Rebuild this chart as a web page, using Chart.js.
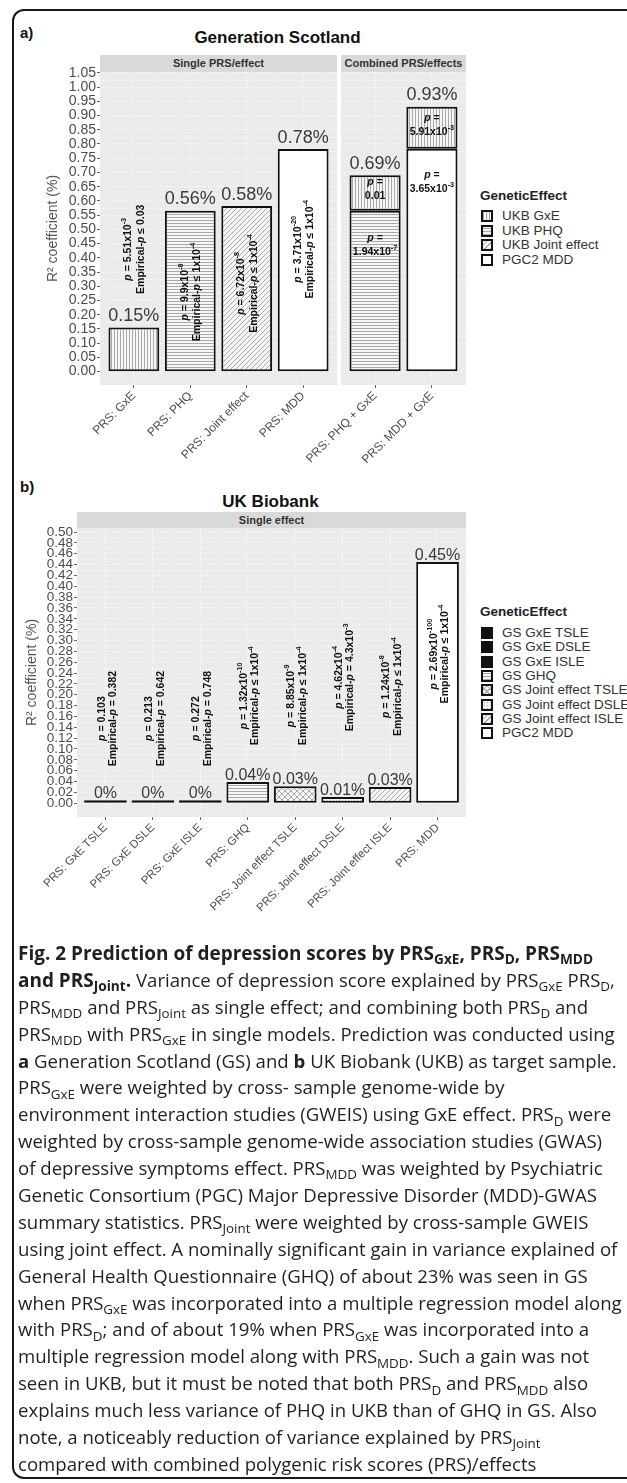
<!DOCTYPE html>
<html>
<head>
<meta charset="utf-8">
<title>Fig. 2 Prediction of depression scores</title>
<script src="https://cdn.jsdelivr.net/npm/chart.js@4.4.1/dist/chart.umd.min.js"></script>
<style>
  body { margin: 0; background: #fff; }
  #page { position: relative; width: 627px; height: 1483px; overflow: hidden; font-family: 'Liberation Sans', Arial, sans-serif; }
  #page > * { position: absolute; }
  .frame { left: 12px; top: 9px; width: 660px; height: 1470px; border: 2.5px solid #1a1a1a; border-radius: 12px; box-sizing: border-box; }
  .tag { left: 20px; font-weight: bold; font-size: 15px; color: #111; }
  .title { left: 0; font-weight: bold; color: #111; text-align: center; white-space: nowrap; }
  .strip { background: #d9d9d9; color: #333; font-weight: bold; font-size: 11px; text-align: center; }
  .legend { left: 480px; width: 147px; height: 160px; color: #333; font-size: 13.5px; }
  .legend div { position: absolute; white-space: nowrap; }
  .legend .head { left: 0; font-weight: bold; color: #222; }
  .legend .sw { left: 1px; width: 12px; height: 12px; border: 2px solid #111; box-sizing: border-box; }
  #cap { left: 18px; top: 940px; font-family: 'Open Sans', sans-serif; font-size: 18.6px; color: #231f20; white-space: nowrap; }
  #cap div { height: 26.9px; line-height: 26.9px; }
  #cap .ct { font-size: 1.02em; line-height: 1; }
  #cap sub { font-size: 0.72em; vertical-align: baseline; position: relative; top: 0.32em; line-height: 0; }
</style>
</head>
<body>
<div id="page">
  <div class="frame"></div>

  <div class="tag" style="top:24px">a)</div>
  <div class="title" style="top:28px;width:555px;font-size:17px">Generation Scotland</div>
  <canvas id="gsSingle" width="340" height="420" style="left:0;top:55px"></canvas>
  <canvas id="gsComb" width="230" height="420" style="left:250px;top:55px"></canvas>
  <div class="strip" style="left:100px;top:55px;width:237px;height:17px;line-height:17px">Single PRS/effect</div>
  <div class="strip" style="left:341px;top:55px;width:125px;height:17px;line-height:17px">Combined PRS/effects</div>
  <div class="legend" id="gsLegendBox" style="top:188px"></div>

  <div class="tag" style="top:478px">b)</div>
  <div class="title" style="top:492px;width:541px;font-size:17px">UK Biobank</div>
  <canvas id="ukb" width="480" height="445" style="left:0;top:500px"></canvas>
  <div class="strip" style="left:77px;top:512px;width:389px;height:16px;line-height:16px">Single effect</div>
  <div class="legend" id="ukbLegendBox" style="top:604px;height:140px"></div>

  <div id="cap">
    <div><b class="ct">Fig. 2 Prediction of depression scores by PRS<sub>GxE</sub>, PRS<sub>D</sub>, PRS<sub>MDD</sub></b></div>
    <div><b class="ct">and PRS<sub>Joint</sub>.</b> Variance of depression score explained by PRS<sub>GxE</sub> PRS<sub>D</sub>,</div>
    <div>PRS<sub>MDD</sub> and PRS<sub>Joint</sub> as single effect; and combining both PRS<sub>D</sub> and</div>
    <div>PRS<sub>MDD</sub> with PRS<sub>GxE</sub> in single models. Prediction was conducted using</div>
    <div><b>a</b> Generation Scotland (GS) and <b>b</b> UK Biobank (UKB) as target sample.</div>
    <div>PRS<sub>GxE</sub> were weighted by cross- sample genome-wide by</div>
    <div>environment interaction studies (GWEIS) using GxE effect. PRS<sub>D</sub> were</div>
    <div>weighted by cross-sample genome-wide association studies (GWAS)</div>
    <div>of depressive symptoms effect. PRS<sub>MDD</sub> was weighted by Psychiatric</div>
    <div>Genetic Consortium (PGC) Major Depressive Disorder (MDD)-GWAS</div>
    <div>summary statistics. PRS<sub>Joint</sub> were weighted by cross-sample GWEIS</div>
    <div>using joint effect. A nominally significant gain in variance explained of</div>
    <div>General Health Questionnaire (GHQ) of about 23% was seen in GS</div>
    <div>when PRS<sub>GxE</sub> was incorporated into a multiple regression model along</div>
    <div>with PRS<sub>D</sub>; and of about 19% when PRS<sub>GxE</sub> was incorporated into a</div>
    <div>multiple regression model along with PRS<sub>MDD</sub>. Such a gain was not</div>
    <div>seen in UKB, but it must be noted that both PRS<sub>D</sub> and PRS<sub>MDD</sub> also</div>
    <div>explains much less variance of PHQ in UKB than of GHQ in GS. Also</div>
    <div>note, a noticeably reduction of variance explained by PRS<sub>Joint</sub></div>
    <div>compared with combined polygenic risk scores (PRS)/effects</div>
  </div>
</div>

<script>
// Panel a - Generation Scotland, single PRS
const gsSingleCats = ['PRS: GxE', 'PRS: PHQ', 'PRS: Joint effect', 'PRS: MDD'];
const gsSingleR2 = [0.155, 0.565, 0.582, 0.782];
const gsSinglePct = ['0.15%', '0.56%', '0.58%', '0.78%'];
const gsSingleP = ['5.51x10^-3', '9.9x10^-8', '6.72x10^-8', '3.71x10^-20'];
const gsSingleEmp = ['≤ 0.03', '≤ 1x10^-4', '≤ 1x10^-4', '≤ 1x10^-4'];
const gsSingleTextY = [0.43, 0.28, 0.31, 0.43];
const gsSingleFill = ['v', 'h', 'd', 'w'];

// Panel a - combined PRS (base + GxE stacked)
const gsCombCats = ['PRS: PHQ + GxE', 'PRS: MDD + GxE'];
const gsCombBase = [0.565, 0.783];
const gsCombGxE = [0.125, 0.148];
const gsCombPct = ['0.69%', '0.93%'];
const gsCombBaseP = ['1.94x10^-7', '3.65x10^-3'];
const gsCombGxEP = ['0.01', '5.91x10^-3'];
const gsCombBaseTextY = [0.445, 0.667];
const gsCombGxETextY = [0.64, 0.867];
const gsCombFill = ['h', 'w'];

const gsTicks = [0, 0.05, 0.1, 0.15, 0.2, 0.25, 0.3, 0.35, 0.4, 0.45, 0.5, 0.55,
                 0.6, 0.65, 0.7, 0.75, 0.8, 0.85, 0.9, 0.95, 1, 1.05];
const gsLegend = ['UKB GxE', 'UKB PHQ', 'UKB Joint effect', 'PGC2 MDD'];
const gsLegendFill = ['v', 'h', 'd', 'w'];

// Panel b - UK Biobank
const ukbCats = ['PRS: GxE TSLE', 'PRS: GxE DSLE', 'PRS: GxE ISLE', 'PRS: GHQ',
                 'PRS: Joint effect TSLE', 'PRS: Joint effect DSLE', 'PRS: Joint effect ISLE', 'PRS: MDD'];
const ukbR2 = [0.0055, 0.0055, 0.0055, 0.039, 0.031, 0.0114, 0.0298, 0.4446];
const ukbPct = ['0%', '0%', '0%', '0.04%', '0.03%', '0.01%', '0.03%', '0.45%'];
const ukbP = ['0.103', '0.213', '0.272', '1.32x10^-10', '8.85x10^-9', '4.62x10^-4', '1.24x10^-8', '2.69x10^-100'];
const ukbEmp = ['= 0.382', '= 0.642', '= 0.748', '≤ 1x10^-4', '≤ 1x10^-4', '= 4.3x10^-3', '≤ 1x10^-4', '≤ 1x10^-4'];
const ukbTextY = [0.156, 0.156, 0.156, 0.198, 0.198, 0.232, 0.215, 0.275];
const ukbFill = ['k', 'k', 'k', 'h', 'x', 'o', 'd', 'w'];

const ukbTicks = [0, 0.02, 0.04, 0.06, 0.08, 0.1, 0.12, 0.14, 0.16, 0.18, 0.2, 0.22, 0.24,
                  0.26, 0.28, 0.3, 0.32, 0.34, 0.36, 0.38, 0.4, 0.42, 0.44, 0.46, 0.48, 0.5];
const ukbLegend = ['GS GxE TSLE', 'GS GxE DSLE', 'GS GxE ISLE', 'GS GHQ', 'GS Joint effect TSLE',
                   'GS Joint effect DSLE', 'GS Joint effect ISLE', 'PGC2 MDD'];
const ukbLegendFill = ['k', 'k', 'k', 'h', 'x', 'o', 'd', 'w'];

const FONT = "'Liberation Sans', Arial, sans-serif";
Chart.defaults.font.family = FONT;

// hatch fills for the bars
function makePattern(kind) {
    if (kind === 'k') return '#111111';
    if (kind === 'w') return '#ffffff';
    const s = kind === 'x' ? 6 : (kind === 'd' ? 5 : 3);
    const c = document.createElement('canvas');
    c.width = c.height = s;
    const g = c.getContext('2d');
    g.fillStyle = '#f6f6f6';
    g.fillRect(0, 0, s, s);
    g.strokeStyle = '#a9a9a9';
    g.fillStyle = '#a9a9a9';
    g.lineWidth = 1;
    g.beginPath();
    if (kind === 'v') { g.moveTo(0.5, 0); g.lineTo(0.5, s); }
    if (kind === 'h') { g.moveTo(0, 0.5); g.lineTo(s, 0.5); }
    if (kind === 'd' || kind === 'x') {
        g.moveTo(-1, s + 1); g.lineTo(s + 1, -1);
        g.moveTo(-1, 1); g.lineTo(1, -1);
        g.moveTo(s - 1, s + 1); g.lineTo(s + 1, s - 1);
    }
    if (kind === 'x') {
        g.moveTo(-1, -1); g.lineTo(s + 1, s + 1);
        g.moveTo(s - 1, -1); g.lineTo(s + 1, 1);
        g.moveTo(-1, s - 1); g.lineTo(1, s + 1);
    }
    g.stroke();
    if (kind === 'o') g.fillRect(0, 0, 1, 1);
    return g.createPattern(c, 'repeat');
}

const swatchCss = {
    v: 'repeating-linear-gradient(90deg,#a9a9a9 0 1px,#f3f3f3 1px 3px)',
    h: 'repeating-linear-gradient(0deg,#a9a9a9 0 1px,#f3f3f3 1px 3px)',
    d: 'repeating-linear-gradient(-45deg,#a9a9a9 0 1px,#f3f3f3 1px 4px)',
    x: 'repeating-linear-gradient(45deg,#a9a9a9 0 1px,transparent 1px 4px),repeating-linear-gradient(-45deg,#a9a9a9 0 1px,#f3f3f3 1px 4px)',
    o: 'radial-gradient(#a9a9a9 0.6px,#f3f3f3 0.8px) 0 0/3px 3px',
    k: '#111',
    w: '#fff'
};

function buildLegend(boxId, names, fills, firstY, step) {
    const box = document.getElementById(boxId);
    const head = document.createElement('div');
    head.className = 'head';
    head.style.top = '0px';
    head.textContent = 'GeneticEffect';
    box.appendChild(head);
    names.forEach((name, i) => {
        const cy = firstY + i * step;
        const sw = document.createElement('div');
        sw.className = 'sw';
        sw.style.top = (cy - 6) + 'px';
        sw.style.background = swatchCss[fills[i]];
        const tx = document.createElement('div');
        tx.style.left = '22px';
        tx.style.top = (cy - 8) + 'px';
        tx.textContent = name;
        box.appendChild(sw);
        box.appendChild(tx);
    });
}

// text with _italic_ parts and ^superscripts
function parseRich(str) {
    const segs = [];
    const re = /_([^_]+)_|\^(\S+)/g;
    let last = 0, m;
    while ((m = re.exec(str))) {
        if (m.index > last) segs.push({ t: str.slice(last, m.index) });
        if (m[1]) segs.push({ t: m[1], it: true });
        else segs.push({ t: m[2], sup: true });
        last = re.lastIndex;
    }
    if (last < str.length) segs.push({ t: str.slice(last) });
    return segs;
}

function segFont(s, size) {
    if (s.sup) return 'bold ' + (size * 0.7).toFixed(1) + 'px ' + FONT;
    return (s.it ? 'italic ' : '') + 'bold ' + size + 'px ' + FONT;
}

function drawRich(ctx, str, cx, cy, size) {
    const segs = parseRich(str);
    let w = 0;
    segs.forEach(s => { ctx.font = segFont(s, size); s.w = ctx.measureText(s.t).width; w += s.w; });
    let xx = cx - w / 2;
    ctx.textAlign = 'left';
    ctx.textBaseline = 'middle';
    ctx.fillStyle = '#111';
    segs.forEach(s => {
        ctx.font = segFont(s, size);
        ctx.fillText(s.t, xx, s.sup ? cy - size * 0.4 : cy);
        xx += s.w;
    });
}

function drawLines(ctx, lines, cx, cy, size, gap, rotated) {
    ctx.save();
    ctx.translate(cx, cy);
    if (rotated) ctx.rotate(-Math.PI / 2);
    lines.forEach((l, k) => drawRich(ctx, l, 0, (k - (lines.length - 1) / 2) * gap, size));
    ctx.restore();
}

function drawPct(ctx, text, cx, baseY, size) {
    ctx.font = size + 'px ' + FONT;
    ctx.fillStyle = '#3a3a3a';
    ctx.textAlign = 'center';
    ctx.textBaseline = 'alphabetic';
    ctx.fillText(text, cx, baseY);
}

// grey ggplot-like panel with dotted minor lines
const panelBg = {
    id: 'panelBg',
    beforeDraw(chart) {
        const { ctx, chartArea: a, scales: { y } } = chart;
        ctx.save();
        ctx.fillStyle = '#ebebeb';
        ctx.fillRect(a.left, a.top, a.right - a.left, a.bottom - a.top);
        ctx.strokeStyle = '#ffffff';
        ctx.lineWidth = 0.7;
        ctx.setLineDash([1, 2]);
        const t = y.ticks.map(k => k.value);
        ctx.beginPath();
        for (let i = 0; i < t.length - 1; i++) {
            const py = Math.round(y.getPixelForValue((t[i] + t[i + 1]) / 2)) + 0.5;
            ctx.moveTo(a.left, py);
            ctx.lineTo(a.right, py);
        }
        ctx.stroke();
        ctx.restore();
    }
};

function textLayer(id, fn) {
    return {
        id,
        afterDatasetsDraw(chart) {
            chart.ctx.save();
            fn(chart.ctx, chart.scales.x, chart.scales.y);
            chart.ctx.restore();
        }
    };
}

function xAxis(cats, height, fontSize) {
    return {
        type: 'linear',
        min: 0.4,
        max: cats.length + 0.6,
        offset: false,
        stacked: true,
        afterFit: s => { s.height = height; },
        afterBuildTicks: s => { s.ticks = cats.map((c, i) => ({ value: i + 1 })); },
        ticks: {
            autoSkip: false, minRotation: 45, maxRotation: 45, padding: 1,
            color: '#4d4d4d', font: { size: fontSize },
            callback: v => cats[v - 1]
        },
        grid: { offset: false, color: '#ffffff', lineWidth: 1, tickLength: 3, tickColor: '#666' },
        border: { display: false, dash: [1, 2] }
    };
}

function yAxis(min, max, ticks, width, fontSize, showLabels) {
    return {
        min, max,
        stacked: true,
        afterFit: s => { s.width = width; },
        afterBuildTicks: s => { s.ticks = ticks.map(v => ({ value: v })); },
        ticks: {
            display: showLabels, autoSkip: false, padding: 1,
            color: '#4d4d4d', font: { size: fontSize },
            callback: v => v.toFixed(2)
        },
        grid: { color: '#ffffff', lineWidth: 1, tickLength: 3, tickColor: '#666', drawTicks: showLabels },
        border: { display: false, dash: [1, 2] },
        title: {
            display: showLabels, text: 'R² coefficient (%)', color: '#555',
            font: { size: 14 }, padding: { top: 4, bottom: 0 }
        }
    };
}

function barSet(values, fills) {
    return {
        data: values.map((v, i) => ({ x: i + 1, y: v })),
        backgroundColor: fills.map(makePattern),
        borderColor: '#111',
        borderWidth: 2,
        borderSkipped: false,
        barPercentage: 0.9,
        categoryPercentage: 1
    };
}

function baseOptions(padding, x, y) {
    return {
        responsive: false,
        animation: false,
        events: [],
        layout: { padding },
        plugins: { legend: { display: false }, tooltip: { enabled: false } },
        scales: { x, y }
    };
}

// a) single PRS
new Chart(document.getElementById('gsSingle'), {
    type: 'bar',
    data: { datasets: [barSet(gsSingleR2, gsSingleFill)] },
    options: baseOptions({ left: 41, right: 3, top: 17, bottom: 0 },
        xAxis(gsSingleCats, 90, 12), yAxis(-0.047, 1.053, gsTicks, 59, 14, true)),
    plugins: [panelBg, textLayer('gsSingleText', (ctx, x, y) => {
        gsSingleCats.forEach((c, i) => {
            const px = x.getPixelForValue(i + 1);
            drawPct(ctx, gsSinglePct[i], px, y.getPixelForValue(gsSingleR2[i]) - 6.5, 18);
            drawLines(ctx, ['_p_ = ' + gsSingleP[i], 'Empirical-_p_ ' + gsSingleEmp[i]],
                px + 1, y.getPixelForValue(gsSingleTextY[i]), 10.5, 12.5, true);
        });
    })]
});

// a) combined PRS
new Chart(document.getElementById('gsComb'), {
    type: 'bar',
    data: {
        datasets: [
            barSet(gsCombBase, gsCombFill),
            barSet(gsCombGxE, gsCombCats.map(() => 'v'))
        ]
    },
    options: baseOptions({ left: 91, right: 14, top: 17, bottom: 0 },
        xAxis(gsCombCats, 90, 12), yAxis(-0.047, 1.053, gsTicks, 0, 14, false)),
    plugins: [panelBg, textLayer('gsCombText', (ctx, x, y) => {
        gsCombCats.forEach((c, i) => {
            const px = x.getPixelForValue(i + 1);
            drawPct(ctx, gsCombPct[i], px, y.getPixelForValue(gsCombBase[i] + gsCombGxE[i]) - 6.5, 18);
            drawLines(ctx, ['_p_ =', gsCombBaseP[i]], px, y.getPixelForValue(gsCombBaseTextY[i]), 10.5, 14, false);
            drawLines(ctx, ['_p_ =', gsCombGxEP[i]], px, y.getPixelForValue(gsCombGxETextY[i]), 10.5, 14, false);
        });
    })]
});

// b) UK Biobank
new Chart(document.getElementById('ukb'), {
    type: 'bar',
    data: { datasets: [barSet(ukbR2, ukbFill)] },
    options: baseOptions({ left: 20, right: 14, top: 28, bottom: 0 },
        xAxis(ukbCats, 128, 11.5), yAxis(-0.0255, 0.5075, ukbTicks, 57, 13.5, true)),
    plugins: [panelBg, textLayer('ukbText', (ctx, x, y) => {
        ukbCats.forEach((c, i) => {
            const px = x.getPixelForValue(i + 1);
            drawPct(ctx, ukbPct[i], px, y.getPixelForValue(ukbR2[i]) - 2.2, 16);
            drawLines(ctx, ['_p_ = ' + ukbP[i], 'Empirical-_p_ ' + ukbEmp[i]],
                px + 2, y.getPixelForValue(ukbTextY[i]), 10.5, 11.5, true);
        });
    })]
});

buildLegend('gsLegendBox', gsLegend, gsLegendFill, 28, 14.6);
buildLegend('ukbLegendBox', ukbLegend, ukbLegendFill, 29, 14.3);
</script>
</body>
</html>
